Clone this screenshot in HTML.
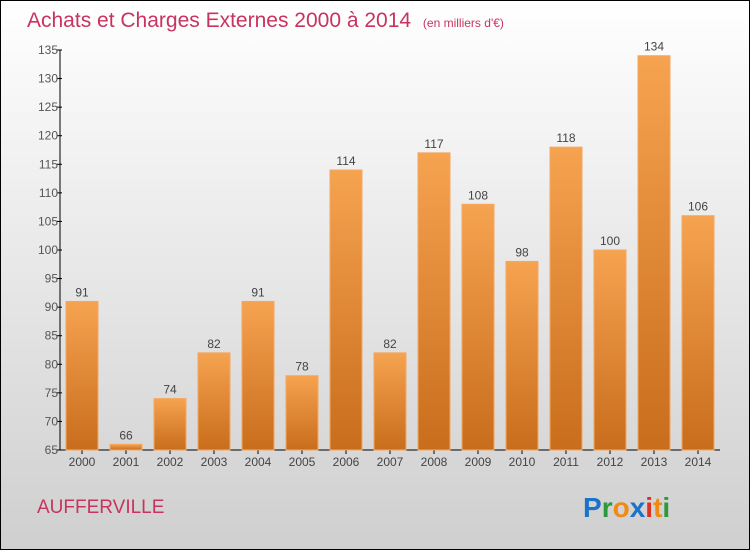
<!DOCTYPE html>
<html><head><meta charset="utf-8"><style>
body{margin:0;width:750px;height:550px;overflow:hidden}
svg{display:block}
text{font-family:"Liberation Sans",sans-serif}
</style></head><body>
<svg id="c" width="750" height="550">
<defs>
<linearGradient id="bg" x1="0" y1="0" x2="0" y2="1"><stop offset="0" stop-color="#ffffff"/><stop offset="1" stop-color="#cfcfcf"/></linearGradient>
<linearGradient id="bar" x1="0" y1="0" x2="0" y2="1"><stop offset="0" stop-color="#f6a350"/><stop offset="1" stop-color="#c86d1c"/></linearGradient>
</defs>
<rect x="0.5" y="0.5" width="749" height="549" fill="url(#bg)" stroke="#000"/>
<text x="27" y="27" font-size="21" fill="#c8335f">Achats et Charges Externes 2000 à 2014 <tspan font-size="12" dx="6">(en milliers d'€)</tspan></text>
<g id="axes"></g><g id="bars"></g>
<text x="37" y="513" font-size="19" fill="#c8335f">AUFFERVILLE</text>
<text x="583" y="517" font-size="28" font-weight="bold"><tspan fill="#1a73c8">P</tspan><tspan fill="#2a9a3a">r</tspan><tspan fill="#f08a10">o</tspan><tspan fill="#1a73c8">x</tspan><tspan fill="#e03020">i</tspan><tspan fill="#f08a10">t</tspan><tspan fill="#2a9a3a">i</tspan></text>
</svg>
<script>
const years=["2000","2001","2002","2003","2004","2005","2006","2007","2008","2009","2010","2011","2012","2013","2014"];
const values=[91,66,74,82,91,78,114,82,117,108,98,118,100,134,106];
const ticks=[65,70,75,80,85,90,95,100,105,110,115,120,125,130,135];
const NS="http://www.w3.org/2000/svg";
const y=v=>450-(v-65)*(400/70);
const x=i=>82+i*44;
function mk(t,a,p,txt){const e=document.createElementNS(NS,t);for(const k in a)e.setAttribute(k,a[k]);if(txt!=null)e.textContent=txt;p.appendChild(e);return e;}
const ax=document.getElementById('axes'),bs=document.getElementById('bars');
const yl=mk('line',{x1:60,y1:50,x2:60,y2:450,stroke:'#000'},ax);


const xl=mk('line',{x1:60,y1:450,x2:720,y2:450,stroke:'#000'},ax);


ticks.forEach(t=>{
 const tk=mk('line',{x1:57,y1:y(t),x2:62,y2:y(t),stroke:'#000'},ax);
 
 
 const l=mk('text',{x:58,y:y(t)+4,'font-size':12,fill:'#555','text-anchor':'end'},ax,t);
 
 
});
years.forEach((yr,i)=>{
 const v=values[i];
 const r=mk('rect',{x:x(i)-16,y:y(v),width:32,height:450-y(v),fill:'url(#bar)',stroke:'#f4a860','stroke-width':1},bs);
 
 
 const vl=mk('text',{x:x(i),y:y(v)-5,'font-size':12,fill:'#444','text-anchor':'middle'},bs,v);
 
 
 const tk=mk('line',{x1:x(i),y1:450,x2:x(i),y2:454,stroke:'#000'},ax);
 
 
 const xl2=mk('text',{x:x(i),y:466,'font-size':12,fill:'#444','text-anchor':'middle'},ax,yr);
 
 
});
</script>
</body></html>
